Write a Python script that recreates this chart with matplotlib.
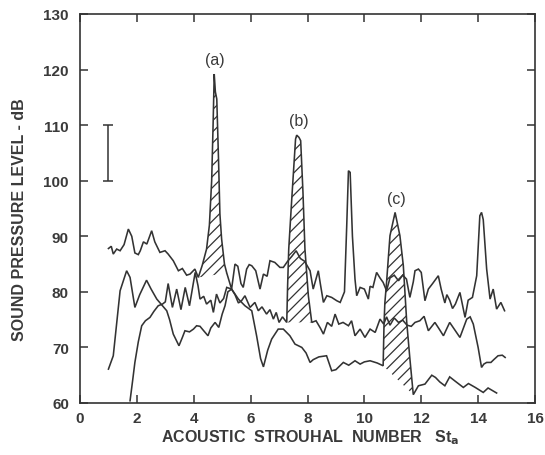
import numpy as np
import matplotlib
matplotlib.use("Agg")
import matplotlib.pyplot as plt

plt.rcParams['font.family'] = ['Liberation Sans', 'DejaVu Sans']
plt.rcParams['hatch.linewidth'] = 0.9

# ---- data ----
a_x = [1.0, 1.1, 1.17, 1.29, 1.41, 1.55, 1.70, 1.82, 1.93, 2.05, 2.12, 2.23, 2.35, 2.52, 2.63, 2.81, 2.99, 3.1, 3.28, 3.46,
       3.6, 3.75, 3.87, 4.04, 4.16, 4.3, 4.45, 4.55, 4.63, 4.68, 4.72, 4.76, 4.81, 4.87, 4.92, 4.98, 5.08, 5.16,
       5.33, 5.45, 5.55, 5.66, 5.74, 5.86, 5.95, 6.04, 6.18, 6.33, 6.45, 6.58, 6.68, 6.85, 7.03, 7.15, 7.3, 7.45,
       7.6, 7.75, 7.9, 8.09, 8.2, 8.38, 8.45, 8.56, 8.68, 8.85, 9.03, 9.15, 9.3, 9.38, 9.44, 9.5, 9.58, 9.67, 9.73,
       9.85, 10.0, 10.14, 10.2, 10.3, 10.43, 10.55, 10.66, 10.78, 10.9, 11.05, 11.2, 11.35, 11.48, 11.6, 11.72,
       11.78, 11.9, 12.0, 12.13, 12.25, 12.4, 12.6, 12.7, 12.83, 12.9, 13.0, 13.1, 13.2, 13.36, 13.54, 13.65,
       13.8, 13.95, 14.06, 14.12, 14.18, 14.3, 14.42, 14.53, 14.65, 14.8, 14.93]
a_y = [87.8, 88.2, 86.8, 87.7, 87.4, 88.5, 91.3, 90.0, 87.0, 86.7, 87.4, 89.0, 88.6, 91.0, 89.0, 87.1, 87.4, 86.8, 85.6, 83.8,
       84.2, 83.0, 83.2, 84.1, 82.6, 84.8, 87.7, 92.0, 100.0, 110.0, 119.2, 116.0, 114.7, 104.0, 94.0, 89.5, 85.0, 83.4,
       80.5, 85.0, 84.6, 81.5, 80.8, 84.1, 84.9, 84.7, 83.8, 80.5, 83.2, 82.8, 85.6, 85.3, 84.4, 84.4, 85.5, 86.4,
       87.4, 86.0, 85.5, 83.8, 80.5, 83.8, 81.5, 78.1, 79.3, 79.0, 78.4, 78.1, 80.0, 92.0, 101.8, 101.5, 90.0, 82.3, 79.3,
       80.8, 80.5, 78.7, 81.0, 80.8, 83.5, 82.5, 81.7, 80.2, 82.5, 83.0, 82.0, 83.0, 82.3, 79.0, 81.8,
       83.8, 84.1, 83.5, 78.4, 80.5, 81.5, 82.9, 80.5, 78.0, 79.5, 78.5, 77.0, 77.8, 79.9, 75.4, 78.5,
       79.0, 82.9, 93.7, 94.3, 93.0, 84.1, 78.7, 80.5, 76.9, 78.1, 76.6]

b_x = [1.0, 1.17, 1.41, 1.64, 1.76, 1.93, 2.1, 2.34, 2.5, 2.70, 2.9, 3.05, 3.15, 3.28, 3.48, 3.6, 3.69, 3.85, 3.99, 4.1,
       4.22, 4.35, 4.5, 4.6, 4.75, 4.88, 5.0, 5.1, 5.2, 5.33, 5.45, 5.57, 5.68, 5.8, 5.98, 6.15, 6.27, 6.4, 6.56,
       6.68, 6.8, 6.9, 7.0, 7.12, 7.27, 7.3, 7.34, 7.45, 7.58, 7.62, 7.7, 7.76, 7.84, 7.91, 8.03, 8.15,
       8.3, 8.45, 8.56, 8.7, 8.85, 8.97, 9.1, 9.25, 9.44, 9.55, 9.67, 9.85, 10.02, 10.2, 10.38, 10.55, 10.68,
       10.78, 10.9, 11.05, 11.2, 11.35, 11.5, 11.65, 11.78, 11.95, 12.1, 12.25, 12.48, 12.62, 12.78, 13.0, 13.2,
       13.36, 13.6, 13.72, 13.83, 14.0, 14.12, 14.2, 14.3, 14.45, 14.55, 14.7, 14.85, 14.95]
b_y = [66.1, 68.5, 80.2, 83.8, 82.6, 77.2, 79.5, 82.1, 80.5, 78.7, 77.5, 76.6, 75.0, 72.4, 70.3, 71.8, 73.0, 72.8, 73.3, 73.9,
       73.8, 73.0, 72.1, 73.5, 74.5, 73.6, 76.0, 77.5, 80.0, 80.5, 79.5, 78.0, 78.4, 79.3, 77.2, 78.1, 76.6, 77.3, 76.0,
       76.8, 75.1, 76.3, 74.5, 75.5, 74.5, 81.0, 87.7, 97.0, 107.5, 108.2, 107.8, 107.2, 98.0, 87.7, 79.3, 74.5,
       74.8, 73.5, 72.4, 74.5, 73.8, 76.0, 74.2, 74.5, 73.9, 74.8, 72.1, 73.3, 71.8, 73.3, 72.7, 75.1, 74.2,
       75.5, 74.0, 75.3, 74.5, 74.9, 74.0, 73.8, 74.5, 74.8, 75.6, 73.0, 74.5, 73.4, 72.1, 74.5, 73.0,
       71.8, 75.1, 75.5, 74.2, 70.0, 66.4, 67.0, 67.3, 67.3, 67.8, 68.5, 68.6, 68.2]

c_x = [1.76, 1.85, 1.93, 2.05, 2.17, 2.3, 2.46, 2.6, 2.75, 2.9, 3.0, 3.1, 3.25, 3.4, 3.55, 3.7, 3.85, 4.05, 4.15, 4.22,
       4.35, 4.45, 4.6, 4.69, 4.8, 4.92, 5.05, 5.16, 5.33, 5.57, 5.8, 6.04, 6.21, 6.35, 6.45, 6.6, 6.74, 6.97, 7.15,
       7.38, 7.56, 7.8, 7.95, 8.09, 8.2, 8.4, 8.67, 8.85, 9.0, 9.26, 9.45, 9.67, 9.85, 10.0, 10.2, 10.45, 10.66,
       10.69, 10.72, 10.78, 10.9, 11.08, 11.25, 11.37, 11.49, 11.6, 11.72,
       11.9, 12.13, 12.37, 12.5, 12.65, 12.83, 13.0, 13.2, 13.48, 13.66, 13.9, 14.18, 14.35, 14.65]
c_y = [60.4, 64.0, 67.3, 71.0, 73.9, 74.8, 75.4, 76.5, 77.5, 77.8, 78.2, 81.5, 77.2, 80.5, 76.8, 80.8, 77.5, 83.5, 81.1, 78.7,
       79.2, 77.8, 78.5, 76.3, 79.6, 78.0, 78.8, 80.8, 80.5, 78.7, 77.5, 76.6, 72.1, 68.0, 66.5, 69.5, 71.5, 73.3, 73.3,
       72.1, 70.6, 70.0, 69.0, 67.3, 67.8, 68.3, 68.5, 65.8, 66.0, 67.3, 66.8, 67.6, 67.0, 67.4, 67.6, 67.2, 66.7,
       74.0, 78.0, 81.7, 90.1, 94.3, 90.1, 84.7, 74.5, 68.0, 61.5,
       63.1, 63.4, 65.0, 64.6, 63.8, 63.1, 64.7, 63.9, 62.8, 63.5, 62.8, 61.9, 62.7, 61.8]

# hatched tone peaks (St range of each hatched area)
peak_a = (4.16, 5.16)
peak_b = (7.27, 8.15)
peak_c = (10.66, 11.72)
peak_labels = ['(a)', '(b)', '(c)']
label_x = [4.75, 7.71, 11.12]
label_y = [121.8, 110.9, 96.8]

errbar_x = [1.0]
errbar_lo = [100.0]
errbar_hi = [110.0]

x_ticks = [0, 2, 4, 6, 8, 10, 12, 14, 16]
y_ticks = [60, 70, 80, 90, 100, 110, 120, 130]

ink = '#333333'
txt = '#3a3a3a'

fig = plt.figure(figsize=(5.45, 4.56), dpi=100)
ax = fig.add_axes([80/545, 1-404/456, 455/545, 389/456])

for xs, ys, span in [(a_x, a_y, peak_a), (b_x, b_y, peak_b), (c_x, c_y, peak_c)]:
    xs = np.asarray(xs); ys = np.asarray(ys)
    ax.plot(xs, ys, color=ink, lw=1.15, solid_joinstyle='miter')
    m = (xs >= span[0] - 1e-9) & (xs <= span[1] + 1e-9)
    ax.fill(xs[m], ys[m], facecolor='none', edgecolor=ink, hatch='///', lw=0)

for s, lx, ly in zip(peak_labels, label_x, label_y):
    ax.text(lx, ly, s, ha='center', va='center', fontsize=11.5, color=txt)

# scale bar (10 dB)
mid = [(lo + hi) / 2 for lo, hi in zip(errbar_lo, errbar_hi)]
half = [(hi - lo) / 2 for lo, hi in zip(errbar_lo, errbar_hi)]
ax.errorbar(errbar_x, mid, yerr=half, fmt='none', ecolor=ink, elinewidth=1.1, capsize=3.5, capthick=1.1)

ax.set_xlim(0, 16)
ax.set_ylim(60, 130)
ax.set_xticks(x_ticks)
ax.set_yticks(y_ticks)
ax.tick_params(direction='in', length=6, width=1.1, color=ink, top=True, right=True,
               labelsize=11, labelcolor=txt)
ax.tick_params(axis='x', pad=6)
ax.tick_params(axis='y', pad=8)
for lab in ax.get_xticklabels() + ax.get_yticklabels():
    lab.set_fontweight('bold')
for sp in ax.spines.values():
    sp.set_color(ink)
    sp.set_linewidth(1.2)

fig.text(20/545, 1-220/456, 'SOUND PRESSURE LEVEL - dB', rotation=90, ha='center', va='center',
         fontsize=11.5, fontweight='bold', color=txt)
fig.text(310/545, 1-442/456, r'ACOUSTIC  STROUHAL  NUMBER   St$_{\mathbf{a}}$', ha='center', va='baseline',
         fontsize=11.5, fontweight='bold', color=txt)

fig.savefig('out.png', dpi=100, facecolor='white')
